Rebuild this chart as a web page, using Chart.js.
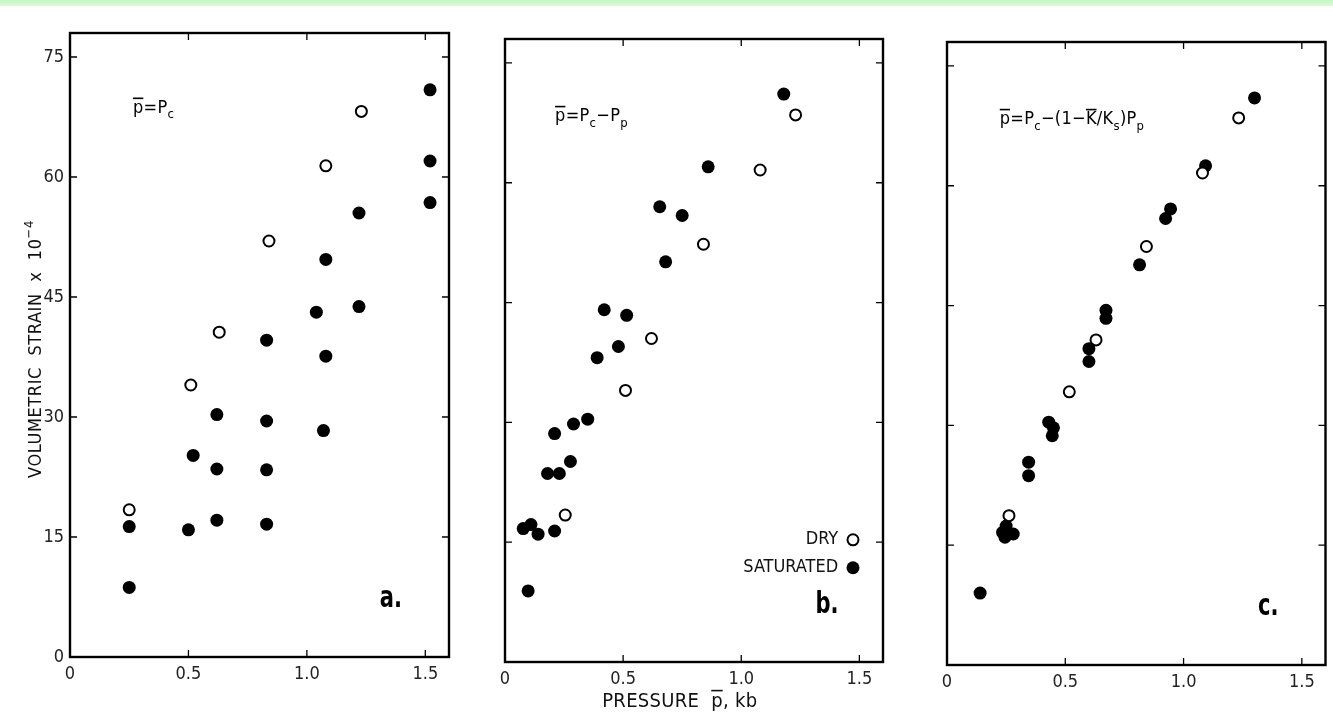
<!DOCTYPE html>
<html>
<head>
<meta charset="utf-8">
<script src="https://cdn.jsdelivr.net/npm/chart.js@4.4.0/dist/chart.umd.min.js"></script>
<style>
html, body { margin: 0; padding: 0; background: #fff; }
body { width: 1333px; height: 715px; position: relative; overflow: hidden; }
#strip { position: absolute; left: 0; top: 0; width: 1333px; height: 6px; background: linear-gradient(#c4f5c4, #dcfadc); }
canvas { position: absolute; top: 0; }
</style>
</head>
<body>
<div id="strip"></div>
<canvas id="chartA" width="460" height="715" style="left:0"></canvas>
<canvas id="chartB" width="440" height="715" style="left:460px"></canvas>
<canvas id="chartC" width="433" height="715" style="left:900px"></canvas>
<script>
// axis ticks (kb and strain x 10^-4)
const pressureTicks = [0, 0.5, 1.0, 1.5];
const strainTicks = [0, 15, 30, 45, 60, 75];

// panel a: p = Pc
const dryA = [[0.25, 18.4], [0.51, 34.0], [0.63, 40.6], [0.84, 52.0], [1.08, 61.4], [1.23, 68.2]];
const satA = [[0.25, 16.3], [0.25, 8.7], [0.50, 15.9], [0.52, 25.2], [0.62, 17.1], [0.62, 23.5],
    [0.62, 30.3], [0.83, 16.6], [0.83, 23.4], [0.83, 29.5], [0.83, 39.6], [1.04, 43.1],
    [1.08, 49.7], [1.08, 37.6], [1.07, 28.3], [1.22, 55.5], [1.22, 43.8], [1.52, 70.9],
    [1.52, 62.0], [1.52, 56.8]];

// panel b: p = Pc - Pp
const dryB = [[1.23, 68.5], [1.08, 61.6], [0.84, 52.3], [0.62, 40.5], [0.51, 34.0], [0.255, 18.4]];
const satB = [[1.18, 71.1], [0.86, 62.0], [0.655, 57.0], [0.75, 55.9], [0.68, 50.1], [0.42, 44.1],
    [0.515, 43.4], [0.48, 39.5], [0.39, 38.1], [0.35, 30.4], [0.29, 29.8], [0.21, 28.6],
    [0.277, 25.1], [0.18, 23.6], [0.23, 23.6], [0.077, 16.7], [0.11, 17.2], [0.14, 16.0],
    [0.21, 16.4], [0.098, 8.9]];

// panel c: p = Pc - (1 - K/Ks) Pp
const dryC = [[1.233, 68.5], [1.08, 61.6], [0.843, 52.4], [0.63, 40.7], [0.517, 34.2], [0.262, 18.7]];
const satC = [[1.30, 71.0], [1.093, 62.5], [0.945, 57.1], [0.924, 55.9], [0.814, 50.1], [0.672, 44.4],
    [0.672, 43.4], [0.60, 39.6], [0.60, 38.0], [0.43, 30.4], [0.45, 29.7], [0.445, 28.7],
    [0.345, 25.4], [0.345, 23.7], [0.235, 16.6], [0.245, 16.0], [0.28, 16.4], [0.25, 17.4],
    [0.14, 9.0]];

const FONT = "'Liberation Sans Narrow', 'DejaVu Sans Condensed', 'Liberation Sans', Arial, sans-serif";

function toPts(arr) {
    return arr.map(p => ({ x: p[0], y: p[1] }));
}

// text with subscripts / overbars, left aligned at baseline y
function drawRich(ctx, x, y, segs, size, spacing) {
    ctx.textAlign = 'left';
    ctx.textBaseline = 'alphabetic';
    ctx.letterSpacing = (spacing || 0) + 'px';
    for (const s of segs) {
        const fs = (s.sub || s.sup) ? size * 0.72 : size;
        ctx.font = fs + 'px ' + FONT;
        let dy = 0;
        if (s.sub) dy = size * 0.3;
        if (s.sup) dy = -size * 0.45;
        ctx.fillText(s.t, x, y + dy);
        const w = ctx.measureText(s.t).width;
        if (s.bar) ctx.fillRect(x, y - size * 0.86, w - (spacing || 0), 1.6);
        x += w;
    }
    ctx.letterSpacing = '0px';
}

function richWidth(ctx, segs, size, spacing) {
    ctx.letterSpacing = (spacing || 0) + 'px';
    let w = 0;
    for (const s of segs) {
        const fs = (s.sub || s.sup) ? size * 0.72 : size;
        ctx.font = fs + 'px ' + FONT;
        w += ctx.measureText(s.t).width;
    }
    ctx.letterSpacing = '0px';
    return w;
}

const framePlugin = {
    id: 'frame',
    beforeDatasetsDraw(chart, args, o) {
        const { ctx, chartArea: a, scales: { x, y } } = chart;
        ctx.save();
        ctx.strokeStyle = '#000';
        ctx.lineWidth = 1.3;
        const tl = 7;
        ctx.beginPath();
        pressureTicks.forEach(v => {
            if (v === 0) return;
            const px = x.getPixelForValue(v);
            ctx.moveTo(px, a.bottom); ctx.lineTo(px, a.bottom - tl);
            ctx.moveTo(px, a.top); ctx.lineTo(px, a.top + tl);
        });
        strainTicks.forEach(v => {
            if (v === 0) return;
            const py = y.getPixelForValue(v);
            ctx.moveTo(a.left, py); ctx.lineTo(a.left + tl, py);
            ctx.moveTo(a.right, py); ctx.lineTo(a.right - tl, py);
        });
        ctx.stroke();
        ctx.lineWidth = 2.4;
        ctx.strokeRect(a.left, a.top, a.right - a.left, a.bottom - a.top);
        ctx.restore();
    },
    afterDraw(chart, args, o) {
        const { ctx, scales: { x, y } } = chart;
        ctx.save();
        ctx.fillStyle = '#000';
        // formula
        drawRich(ctx, x.getPixelForValue(o.formulaAt[0]), y.getPixelForValue(o.formulaAt[1]), o.formula, 18, 0.3);
        // panel letter, bold and condensed
        ctx.save();
        ctx.translate(x.getPixelForValue(o.letterAt[0]), y.getPixelForValue(o.letterAt[1]));
        ctx.scale(0.78, 1);
        ctx.font = 'bold 30px ' + FONT;
        ctx.textAlign = 'left';
        ctx.textBaseline = 'alphabetic';
        ctx.fillText(o.letter, 0, 0);
        ctx.restore();

        if (o.legend) {
            ctx.font = '18px ' + FONT;
            ctx.textAlign = 'right';
            ctx.textBaseline = 'middle';
            ctx.fillStyle = '#111';
            const rx = x.getPixelForValue(1.41);
            const mx = x.getPixelForValue(1.473);
            const y1 = y.getPixelForValue(15.3);
            const y2 = y.getPixelForValue(11.8);
            ctx.fillText('DRY', rx, y1);
            ctx.fillText('SATURATED', rx, y2);
            ctx.beginPath();
            ctx.arc(mx, y1, 5.5, 0, Math.PI * 2);
            ctx.fillStyle = '#fff';
            ctx.fill();
            ctx.lineWidth = 2;
            ctx.strokeStyle = '#000';
            ctx.stroke();
            ctx.beginPath();
            ctx.arc(mx, y2, 6.5, 0, Math.PI * 2);
            ctx.fillStyle = '#000';
            ctx.fill();
        }
        if (o.yTitle) {
            const segs = [{ t: 'VOLUMETRIC  STRAIN  x  10' }, { t: '−4', sup: true }];
            const w = richWidth(ctx, segs, 18, 0.6);
            ctx.save();
            ctx.translate(chart.chartArea.left - 29, y.getPixelForValue(38.5));
            ctx.rotate(-Math.PI / 2);
            ctx.fillStyle = '#111';
            drawRich(ctx, -w / 2, 0, segs, 18, 0.6);
            ctx.restore();
        }
        if (o.xTitle) {
            const segs = [{ t: 'PRESSURE  ' }, { t: 'p', bar: true }, { t: ', kb' }];
            const w = richWidth(ctx, segs, 20, 0.3);
            ctx.fillStyle = '#111';
            drawRich(ctx, x.getPixelForValue(0.74) - w / 2, 707, segs, 20, 0.3);
        }
        ctx.restore();
    }
};

function makePanel(id, dry, sat, yLabels, layout, extras) {
    const el = document.getElementById(id);
    return new Chart(el, {
        type: 'scatter',
        data: {
            datasets: [
                { label: 'DRY', data: toPts(dry), order: 0, pointRadius: 5.5, pointBorderWidth: 2,
                  pointBackgroundColor: '#fff', pointBorderColor: '#000' },
                { label: 'SATURATED', data: toPts(sat), order: 1, pointRadius: 6.5, pointBorderWidth: 0,
                  pointBackgroundColor: '#000', pointBorderColor: '#000' }
            ]
        },
        options: {
            responsive: false,
            animation: false,
            events: [],
            layout: { padding: layout.padding },
            plugins: { legend: { display: false }, tooltip: { enabled: false }, frame: extras },
            scales: {
                x: {
                    type: 'linear', min: 0, max: 1.6,
                    afterBuildTicks: s => { s.ticks = pressureTicks.map(v => ({ value: v })); },
                    afterFit: s => { s.height = 40; },
                    grid: { display: false, drawTicks: false },
                    border: { display: false },
                    ticks: {
                        padding: 7, color: '#222',
                        font: { family: FONT, size: 18 },
                        maxRotation: 0,
                        callback: v => v === 0 ? '0' : v.toFixed(1)
                    }
                },
                y: {
                    type: 'linear', min: 0, max: 78,
                    afterBuildTicks: s => { s.ticks = strainTicks.map(v => ({ value: v })); },
                    afterFit: s => { s.width = layout.yWidth; },
                    grid: { display: false, drawTicks: false },
                    border: { display: false },
                    ticks: {
                        display: yLabels, padding: 6, color: '#222',
                        font: { family: FONT, size: 18 }
                    }
                }
            }
        },
        plugins: [framePlugin]
    });
}

makePanel('chartA', dryA, satA, true,
    { padding: { left: 0, top: 33, right: 11, bottom: 18 }, yWidth: 70 },
    { formula: [{ t: 'p', bar: true }, { t: '=P' }, { t: 'c', sub: true }],
      formulaAt: [0.266, 68.0], letter: 'a.', letterAt: [1.308, 6.25], yTitle: true });

makePanel('chartB', dryB, satB, false,
    { padding: { left: 0, top: 39, right: 17, bottom: 13 }, yWidth: 45 },
    { formula: [{ t: 'p', bar: true }, { t: '=P' }, { t: 'c', sub: true }, { t: '−P' }, { t: 'p', sub: true }],
      formulaAt: [0.212, 67.7], letter: 'b.', letterAt: [1.314, 6.1], legend: true, xTitle: true });

makePanel('chartC', dryC, satC, false,
    { padding: { left: 0, top: 42, right: 5, bottom: 10 }, yWidth: 47 },
    { formula: [{ t: 'p', bar: true }, { t: '=P' }, { t: 'c', sub: true }, { t: '−(1−' }, { t: 'K', bar: true },
                { t: '/K' }, { t: 's', sub: true }, { t: ')P' }, { t: 'p', sub: true }],
      formulaAt: [0.223, 67.7], letter: 'c.', letterAt: [1.315, 6.25] });
</script>
</body>
</html>
